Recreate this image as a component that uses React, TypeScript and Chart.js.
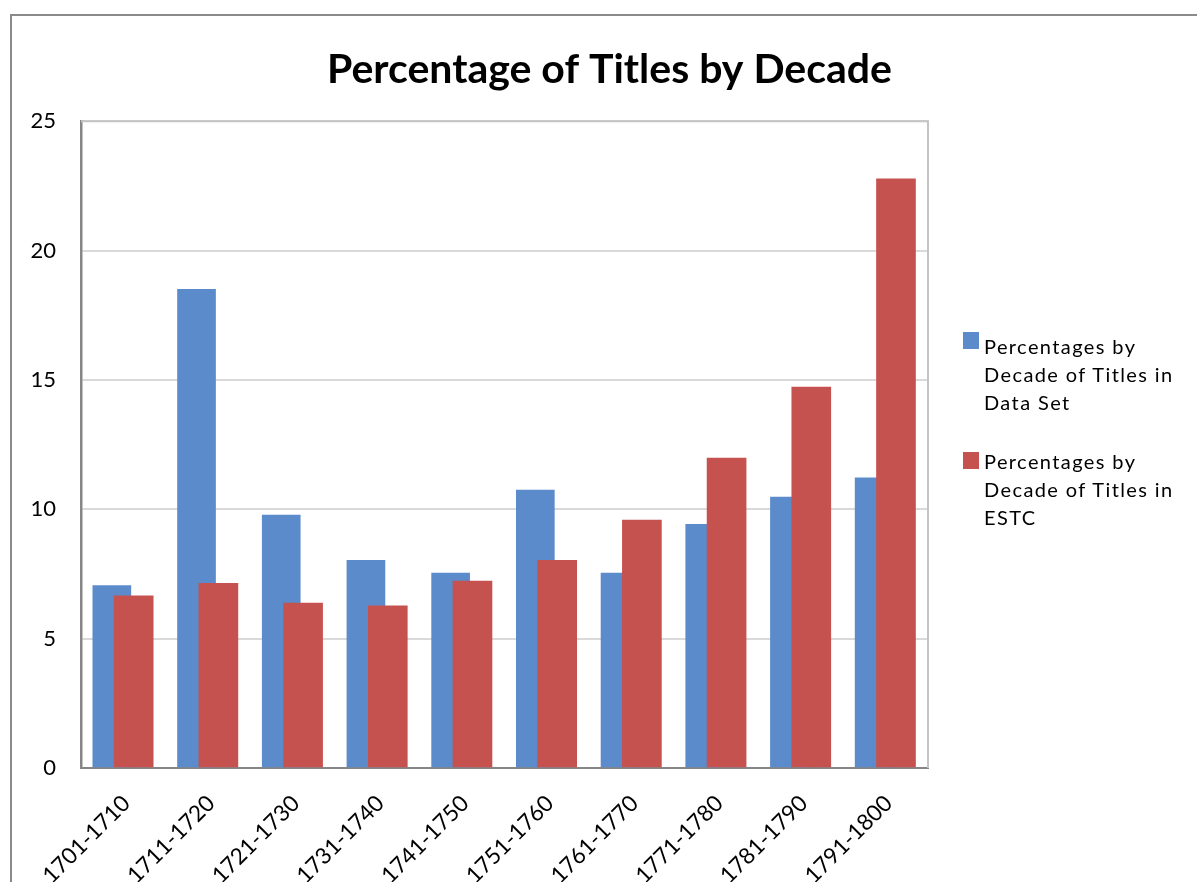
import React, { useEffect, useRef } from "react";
import { Chart, registerables } from "chart.js";

Chart.register(...registerables);

const decades = [
  "1701-1710", "1711-1720", "1721-1730", "1731-1740", "1741-1750",
  "1751-1760", "1761-1770", "1771-1780", "1781-1790", "1791-1800",
];
const dataSetPct = [7.05, 18.5, 9.78, 8.03, 7.53, 10.74, 7.53, 9.42, 10.47, 11.22];
const estcPct = [6.65, 7.14, 6.37, 6.27, 7.22, 8.03, 9.58, 11.98, 14.72, 22.77];
const yTicks = [0, 5, 10, 15, 20, 25];
const seriesNames = [
  "Percentages by Decade of Titles in Data Set",
  "Percentages by Decade of Titles in ESTC",
];
const title = "Percentage of Titles by Decade";

const BLUE = "#5b8bca";
const RED = "#c5524f";
const FONT = "Lato, 'Open Sans', sans-serif";

const plotFrame = {
  id: "plotFrame",
  beforeDatasetsDraw(chart: any) {
    const { ctx, chartArea } = chart;
    ctx.save();
    ctx.strokeStyle = "#c4c4c4";
    ctx.lineWidth = 2;
    ctx.beginPath();
    ctx.moveTo(chartArea.left, chartArea.top);
    ctx.lineTo(chartArea.right, chartArea.top);
    ctx.lineTo(chartArea.right, chartArea.bottom);
    ctx.stroke();
    ctx.restore();
  },
};

export default function App() {
  const canvasRef = useRef<HTMLCanvasElement | null>(null);

  useEffect(() => {
    if (!canvasRef.current) return;
    const chart = new Chart(canvasRef.current, {
      type: "bar",
      data: {
        datasets: [
          {
            label: seriesNames[0],
            data: dataSetPct.map((v, i) => ({ x: i - 0.136, y: v })),
            backgroundColor: BLUE,
            borderWidth: 0,
            barThickness: 38,
            grouped: false,
            order: 1,
          } as any,
          {
            label: seriesNames[1],
            data: estcPct.map((v, i) => ({ x: i + 0.122, y: v })),
            backgroundColor: RED,
            borderWidth: 0,
            barThickness: 39,
            grouped: false,
            order: 0,
          } as any,
        ],
      },
      options: {
        responsive: false,
        animation: false,
        devicePixelRatio: 1,
        layout: { padding: { top: 0, left: 22, right: 0, bottom: 0 } },
        plugins: {
          legend: { display: false },
          tooltip: { enabled: false },
          title: {
            display: true,
            text: title,
            color: "#000",
            font: { family: FONT, size: 41, weight: "bold", lineHeight: 1.2 },
            padding: { top: 45, bottom: 27 },
          },
        },
        scales: {
          x: {
            type: "linear",
            min: -0.5,
            max: 9.5,
            offset: false,
            grid: { display: false, drawTicks: false },
            border: { display: true, color: "#868686", width: 2 },
            afterBuildTicks: (s: any) => {
              s.ticks = decades.map((_, i) => ({ value: i }));
            },
            ticks: {
              autoSkip: false,
              minRotation: 45,
              maxRotation: 45,
              padding: 22,
              labelOffset: 3,
              color: "#000",
              font: { family: FONT, size: 22.5 },
              callback: (v: any) => {
                const n = Math.round(Number(v));
                return decades[n] ?? "";
              },
            },
            afterFit: (s: any) => {
              s.height = 114;
            },
          },
          y: {
            min: 0,
            max: 25,
            grid: { color: "#d9d9d9", lineWidth: 2, drawTicks: false },
            border: { display: true, color: "#868686", width: 2.5 },
            afterBuildTicks: (s: any) => {
              s.ticks = yTicks.map((v) => ({ value: v }));
            },
            ticks: {
              padding: 25,
              color: "#000",
              font: { family: FONT, size: 22 },
            },
            afterFit: (s: any) => {
              s.width = 59;
            },
          },
          legendSpace: {
            type: "linear",
            position: "right",
            display: true,
            grid: { display: false, drawTicks: false },
            border: { display: false },
            ticks: { display: false },
            afterFit: (s: any) => {
              s.width = 269;
            },
          },
        },
      } as any,
      plugins: [plotFrame],
    });
    return () => chart.destroy();
  }, []);

  const legendText = {
    position: "absolute" as const,
    left: 984,
    width: 210,
    fontFamily: FONT,
    fontSize: 20,
    letterSpacing: "1.4px",
    lineHeight: "28px",
    color: "#000",
    whiteSpace: "nowrap" as const,
  };
  const legendBox = {
    position: "absolute" as const,
    left: 963,
    width: 16,
    height: 17,
  };

  return (
    <div
      style={{
        position: "fixed",
        left: 0,
        top: 0,
        width: 1197,
        height: 882,
        background: "#fff",
        overflow: "hidden",
      }}
    >
      <div
        style={{
          position: "absolute",
          left: 10,
          top: 14,
          width: 1300,
          height: 1000,
          border: "2.5px solid #8a8a8a",
        }}
      />
      <canvas
        ref={canvasRef}
        width={1197}
        height={882}
        style={{ position: "absolute", left: 0, top: 0 }}
      />
      <div style={{ ...legendBox, top: 332, background: BLUE }} />
      <div style={{ ...legendText, top: 332 }}>
        Percentages by<br />Decade of Titles in<br />Data Set
      </div>
      <div style={{ ...legendBox, top: 452, background: RED }} />
      <div style={{ ...legendText, top: 447 }}>
        Percentages by<br />Decade of Titles in<br />ESTC
      </div>
    </div>
  );
}
